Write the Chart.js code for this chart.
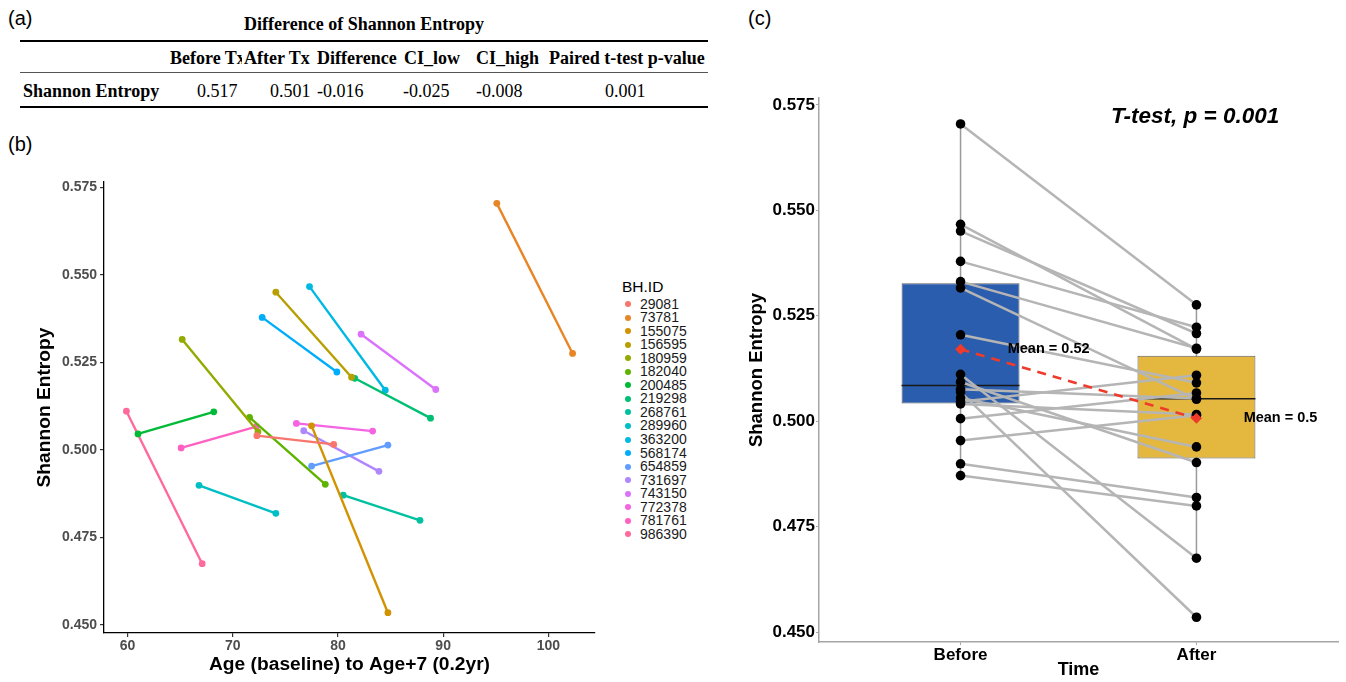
<!DOCTYPE html>
<html>
<head>
<meta charset="utf-8">
<script src="https://cdn.jsdelivr.net/npm/chart.js@4.4.0/dist/chart.umd.min.js"></script>
<style>
  body { margin: 0; background: #fff; width: 1346px; height: 682px; overflow: hidden; position: relative;
         font-family: "Liberation Sans", Arial, sans-serif; }
  .abs { position: absolute; white-space: nowrap; }
  .plabel { font-size: 20px; line-height: 20px; color: #000; }
  .tb { font-family: "Liberation Serif", "Times New Roman", serif; font-size: 18px; line-height: 18px; color: #000; }
  .rule { position: absolute; left: 20px; width: 688px; background: #000; }
  #cb { position: absolute; left: 0; top: 170px; }
  #cc { position: absolute; left: 700px; top: 80px; }
  .leg { font-size: 14px; line-height: 14px; color: #1a1a1a; }
  .dot { position: absolute; width: 6px; height: 6px; border-radius: 50%; }
</style>
</head>
<body>
<div class="abs plabel" style="left:8px;top:8px">(a)</div>
<div class="abs plabel" style="left:8px;top:134px">(b)</div>
<div class="abs plabel" style="left:748px;top:8px">(c)</div>

<div id="tableA"></div>
<div id="legendB"></div>

<canvas id="cb" width="610" height="512"></canvas>
<canvas id="cc" width="646" height="602"></canvas>

<div class="abs" style="left:1111px;top:103px;font-size:22.5px;font-weight:bold;font-style:italic;line-height:26px">T-test, p = 0.001</div>

<script>
// Summary table (a)
const tableTitle = 'Difference of Shannon Entropy';
const tableHeaders = ['Before Tx', 'After Tx', 'Difference', 'CI_low', 'CI_high', 'Paired t-test p-value'];
const tableRowLabel = 'Shannon Entropy';
const tableRow = ['0.517', '0.501', '-0.016', '-0.025', '-0.008', '0.001'];

// Subjects, ages and Shannon entropy before / after
const ids = ['29081', '73781', '155075', '156595', '180959', '182040', '200485', '219298', '268761',
             '289960', '363200', '568174', '654859', '731697', '743150', '772378', '781761', '986390'];
const ageStart = [72.3, 95.1, 77.5, 74.1, 65.2, 71.6, 61.0, 81.6, 80.5, 66.8, 77.3, 72.8, 77.5, 76.75, 82.2, 76.05, 65.1, 59.9];
const ageEnd   = [79.6, 102.3, 84.75, 81.3, 72.4, 78.8, 68.2, 88.8, 87.8, 74.1, 84.5, 79.9, 84.75, 83.9, 89.3, 83.3, 72.25, 67.1];
const entropyBefore = [0.5041, 0.5705, 0.5069, 0.5451, 0.5316, 0.5093, 0.5046, 0.5205, 0.4871,
                       0.4899, 0.5467, 0.5379, 0.4954, 0.5055, 0.5331, 0.5076, 0.5006, 0.5111];
const entropyAfter  = [0.5016, 0.5276, 0.4535, 0.5208, 0.5052, 0.4902, 0.5109, 0.5091, 0.4799,
                       0.4819, 0.5171, 0.5223, 0.5014, 0.4939, 0.5173, 0.5054, 0.5067, 0.4675];

// Tick labels
const ageTicks = [60, 70, 80, 90, 100];
const entropyTicks = [0.450, 0.475, 0.500, 0.525, 0.550, 0.575];
const timeGroups = ['Before', 'After'];

// ggplot hue palette for 18 groups
const palette = ['#F8766D', '#E88526', '#D39200', '#B79F00', '#93AA00', '#5EB300', '#00BA38', '#00BF74', '#00C19F',
                 '#00BFC4', '#00B9E3', '#00ADFA', '#619CFF', '#AE87FF', '#DB72FB', '#F564E3', '#FF61C3', '#FF699C'];

Chart.defaults.font.family = '"Liberation Sans", Arial, sans-serif';

// ---- (a) table as positioned text
(function buildTable() {
  const host = document.getElementById('tableA');
  const headerX = [170, 244, 317, 404, 476, 549];
  const rowX = [197, 270, 317, 403, 476, 605];
  let html = `<div class="abs tb" style="left:20px;width:688px;top:15px;text-align:center;font-weight:bold">${tableTitle}</div>`;
  html += '<div class="rule" style="top:40px;height:2px"></div>';
  html += '<div class="rule" style="top:72px;height:1px;background:#555"></div>';
  html += '<div class="rule" style="top:106px;height:2px"></div>';
  tableHeaders.forEach((h, i) => {
    const clip = i === 0 ? 'width:72px;overflow:hidden;' : '';
    html += `<div class="abs tb" style="left:${headerX[i]}px;top:49px;font-weight:bold;${clip}">${h}</div>`;
  });
  html += `<div class="abs tb" style="left:23px;top:82px;font-weight:bold">${tableRowLabel}</div>`;
  tableRow.forEach((v, i) => {
    html += `<div class="abs tb" style="left:${rowX[i]}px;top:82px">${v}</div>`;
  });
  host.innerHTML = html;
})();

// ---- (b) legend
(function buildLegend() {
  const host = document.getElementById('legendB');
  let html = '<div class="abs" style="left:622px;top:279px;font-size:15.5px;line-height:16px;color:#000">BH.ID</div>';
  ids.forEach((id, i) => {
    const cy = 304 + i * 13.55;
    html += `<div class="dot" style="left:${625}px;top:${cy - 3}px;background:${palette[i]}"></div>`;
    html += `<div class="abs leg" style="left:640px;top:${cy - 7.5}px">${id}</div>`;
  });
  host.innerHTML = html;
})();

// ---- (b) spaghetti chart
const bDatasets = ids.map((id, i) => ({
  label: id,
  showLine: true,
  data: [{ x: ageStart[i], y: entropyBefore[i] }, { x: ageEnd[i], y: entropyAfter[i] }],
  borderColor: palette[i],
  backgroundColor: palette[i],
  borderWidth: 2.4,
  pointRadius: 3.4,
  pointBorderWidth: 0
}));

new Chart(document.getElementById('cb'), {
  type: 'scatter',
  data: { datasets: bDatasets },
  options: {
    responsive: false,
    animation: false,
    events: [],
    layout: { padding: { top: 12, right: 15, left: 0, bottom: 0 } },
    plugins: { legend: { display: false }, tooltip: { enabled: false } },
    scales: {
      x: {
        type: 'linear', min: 57.77, max: 104.43,
        afterBuildTicks: s => { s.ticks = ageTicks.map(v => ({ value: v })); },
        afterFit: s => { s.height = 49; },
        grid: { drawOnChartArea: false, tickLength: 4, color: '#333', lineWidth: 1.2 },
        border: { color: '#000', width: 1.3 },
        ticks: { color: '#4d4d4d', font: { size: 14, weight: 'bold' }, padding: 1, maxRotation: 0 },
        title: { display: true, text: 'Age (baseline) to Age+7 (0.2yr)', color: '#000',
                 font: { size: 19.2, weight: 'bold' }, padding: { top: 0, bottom: 5.5 } }
      },
      y: {
        min: 0.4477, max: 0.5766,
        afterBuildTicks: s => { s.ticks = entropyTicks.map(v => ({ value: v })); },
        afterFit: s => { s.width = 104; },
        grid: { drawOnChartArea: false, tickLength: 4, color: '#333', lineWidth: 1.2 },
        border: { color: '#000', width: 1.3 },
        ticks: { color: '#4d4d4d', font: { size: 14, weight: 'bold' }, padding: 3, callback: v => v.toFixed(3) },
        title: { display: true, text: 'Shannon Entropy', color: '#000',
                 font: { size: 19.2, weight: 'bold' }, padding: { top: 33.5, bottom: 0 } }
      }
    }
  }
});

// ---- (c) paired boxplot
function quantile(arr, p) {
  const s = [...arr].sort((a, b) => a - b);
  const h = (s.length - 1) * p;
  const lo = Math.floor(h);
  const hi = Math.min(lo + 1, s.length - 1);
  return s[lo] + (h - lo) * (s[hi] - s[lo]);
}
function boxStats(arr) {
  const q1 = quantile(arr, 0.25), q3 = quantile(arr, 0.75), iqr = q3 - q1;
  const inRange = arr.filter(v => v >= q1 - 1.5 * iqr && v <= q3 + 1.5 * iqr);
  return {
    q1, q3, median: quantile(arr, 0.5),
    lo: Math.min(...inRange), hi: Math.max(...inRange),
    mean: arr.reduce((a, b) => a + b, 0) / arr.length
  };
}
const groupValues = [entropyBefore, entropyAfter];
const stats = groupValues.map(boxStats);
const boxFill = ['#2A5DAD', '#E4B83F'];

const cDatasets = [];
// whiskers
stats.forEach((st, k) => {
  cDatasets.push({
    type: 'line', data: [{ x: k + 1, y: st.lo }, { x: k + 1, y: st.hi }],
    borderColor: '#9a9a9a', borderWidth: 1.5, pointRadius: 0, order: 50
  });
});
// boxes
cDatasets.push({
  type: 'bar',
  data: stats.map((st, k) => ({ x: k + 1, y: [st.q1, st.q3] })),
  backgroundColor: boxFill, borderColor: '#5c5c5c', borderWidth: 1, borderSkipped: false,
  barPercentage: 0.5, categoryPercentage: 1, order: 40
});
// paired lines
ids.forEach((id, i) => {
  cDatasets.push({
    type: 'line', data: [{ x: 1, y: entropyBefore[i] }, { x: 2, y: entropyAfter[i] }],
    borderColor: '#b5b5b5', borderWidth: 2.5, pointRadius: 0, order: 30
  });
});
// points
cDatasets.push({
  type: 'scatter',
  data: entropyBefore.map(v => ({ x: 1, y: v })).concat(entropyAfter.map(v => ({ x: 2, y: v }))),
  backgroundColor: '#000', pointRadius: 4.8, pointBorderWidth: 0, order: 20
});
// means
cDatasets.push({
  type: 'line', data: stats.map((st, k) => ({ x: k + 1, y: st.mean })),
  borderColor: '#EE3B2B', borderWidth: 2.6, borderDash: [9, 7],
  pointStyle: 'rectRot', pointRadius: 5.5, pointBackgroundColor: '#EE3B2B', pointBorderWidth: 0, order: 10
});

const boxExtras = {
  id: 'boxExtras',
  afterDatasetDraw(chart, args) {
    if (args.meta.type !== 'bar') return;
    const ctx = chart.ctx, y = chart.scales.y;
    args.meta.data.forEach((bar, k) => {
      const py = y.getPixelForValue(stats[k].median);
      ctx.save();
      ctx.strokeStyle = '#1a1a1a';
      ctx.lineWidth = 1.5;
      ctx.beginPath();
      ctx.moveTo(bar.x - bar.width / 2, py);
      ctx.lineTo(bar.x + bar.width / 2, py);
      ctx.stroke();
      ctx.restore();
    });
  },
  afterDatasetsDraw(chart) {
    const ctx = chart.ctx, x = chart.scales.x, y = chart.scales.y;
    ctx.save();
    ctx.fillStyle = '#000';
    ctx.font = 'bold 14.5px "Liberation Sans", Arial, sans-serif';
    ctx.textAlign = 'left';
    ctx.textBaseline = 'middle';
    stats.forEach((st, k) => {
      const txt = 'Mean = ' + String(Math.round(st.mean * 100) / 100);
      ctx.fillText(txt, x.getPixelForValue(k + 1.2), y.getPixelForValue(st.mean));
    });
    ctx.restore();
  }
};

new Chart(document.getElementById('cc'), {
  type: 'scatter',
  data: { datasets: cDatasets },
  plugins: [boxExtras],
  options: {
    responsive: false,
    animation: false,
    events: [],
    layout: { padding: { top: 18, right: 8, left: 0, bottom: 0 } },
    plugins: { legend: { display: false }, tooltip: { enabled: false } },
    scales: {
      x: {
        type: 'linear', min: 0.4, max: 2.6, offset: false,
        afterBuildTicks: s => { s.ticks = timeGroups.map((g, k) => ({ value: k + 1 })); },
        afterFit: s => { s.height = 40; },
        grid: { drawOnChartArea: false, offset: false, tickLength: 3, color: '#a6a6a6' },
        border: { color: '#a6a6a6', width: 1.5 },
        ticks: { color: '#000', font: { size: 17, weight: 'bold' }, padding: 0, maxRotation: 0,
                 callback: v => timeGroups[Math.round(v) - 1] },
        title: { display: true, text: 'Time', color: '#000',
                 font: { size: 18, weight: 'bold' }, padding: { top: 0, bottom: 1 } }
      },
      y: {
        min: 0.44763, max: 0.57666,
        afterBuildTicks: s => { s.ticks = entropyTicks.map(v => ({ value: v })); },
        afterFit: s => { s.width = 119; },
        grid: { drawOnChartArea: false, tickLength: 3, color: '#a6a6a6' },
        border: { color: '#a6a6a6', width: 1.5 },
        ticks: { color: '#000', font: { size: 17, weight: 'bold' }, padding: 1, callback: v => v.toFixed(3) },
        title: { display: true, text: 'Shannon Entropy', color: '#000',
                 font: { size: 18.5, weight: 'bold' }, padding: { top: 46, bottom: 0 } }
      }
    }
  }
});
</script>
</body>
</html>
